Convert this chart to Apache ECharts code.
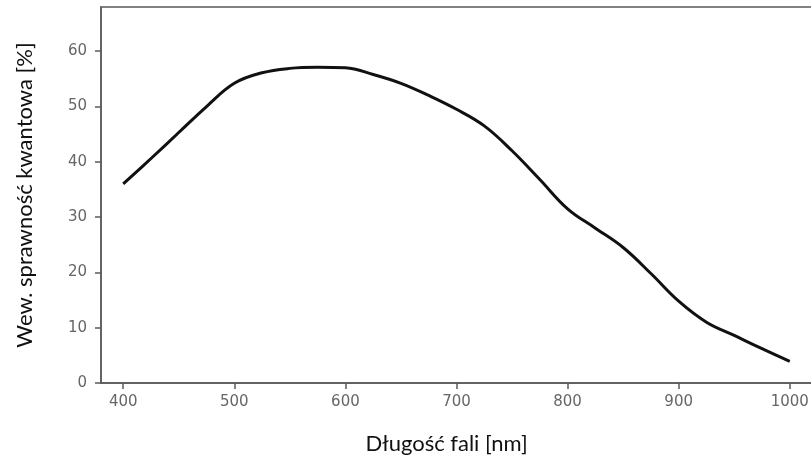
<!DOCTYPE html>
<html>
<head>
<meta charset="utf-8">
<script src="https://cdn.jsdelivr.net/npm/echarts@6/dist/echarts.min.js"></script>
<style>html,body{margin:0;padding:0;background:#fff}#c{width:811px;height:456px}</style>
</head>
<body>
<div id="c"></div>
<script>
const wavelengths = [400,425,450,475,500,525,550,575,600,625,650,675,700,725,750,775,800,825,850,875,900,925,950,975,1000];
const efficiency  = [36,40.6,45.3,50,54.2,56.1,56.9,57.1,57,55.8,54.2,52,49.5,46.5,42.0,36.8,31.5,28.0,24.5,19.8,14.8,11.0,8.6,6.2,3.9];
const xTicks = [400,500,600,700,800,900,1000];
const yTicks = [0,10,20,30,40,50,60];
const xTitle = 'Długość fali [nm]';
const yTitle = 'Wew. sprawność kwantowa [%]';

const chart = echarts.init(document.getElementById('c'), null, {renderer:'canvas'});
const axisColor = '#5a5a5a';
const labelStyle = {color:'#666', fontFamily:'DejaVu Sans', fontSize:15, formatter:v=>String(v)};
chart.setOption({
  animation:false,
  backgroundColor:'#fff',
  grid:{left:101, top:7, width:711, height:376, show:true, borderColor:axisColor, borderWidth:1.5, containLabel:false, outerBoundsMode:'none'},
  xAxis:{
    type:'value', min:380, max:1020,
    name:xTitle, nameLocation:'middle', nameGap:50,
    nameTextStyle:{fontFamily:'Lato', fontSize:22, color:'#111', padding:[0,20,0,0]},
    axisLine:{show:true, lineStyle:{color:axisColor, width:1.5}},
    axisTick:{show:true, length:6, inside:false, customValues:xTicks, lineStyle:{color:axisColor, width:1.5}},
    axisLabel:{...labelStyle, margin:12, customValues:xTicks},
    splitLine:{show:false}
  },
  yAxis:{
    type:'value', min:0, max:68,
    name:yTitle, nameLocation:'middle', nameGap:65, nameRotate:90,
    nameTextStyle:{fontFamily:'Lato', fontSize:22, color:'#111'},
    axisLine:{show:true, lineStyle:{color:axisColor, width:1.5}},
    axisTick:{show:true, length:6, inside:false, customValues:yTicks, lineStyle:{color:axisColor, width:1.5}},
    axisLabel:{...labelStyle, margin:14, customValues:yTicks},
    splitLine:{show:false}
  },
  series:[{
    type:'line',
    data:wavelengths.map((w,i)=>[w, efficiency[i]]),
    smooth:0.4,
    showSymbol:false,
    lineStyle:{color:'#111', width:3}
  }]
});
</script>
</body>
</html>
